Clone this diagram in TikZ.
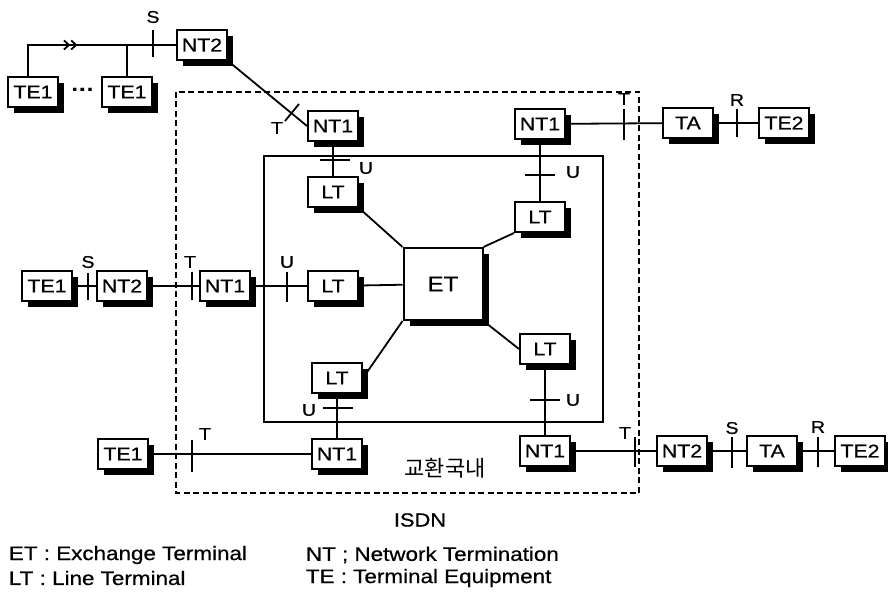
\documentclass[tikz,border=0pt]{standalone}
\usepackage{fontspec}
\setmainfont{Liberation Sans}[FakeStretch=1.15, FakeBold=0.6]
\newfontfamily\krfont{Noto Sans CJK KR}
\usetikzlibrary{shadows,decorations.markings,arrows.meta}

\begin{document}
\begin{tikzpicture}[x=1pt, y=-1pt, line width=1.8pt,
	unit/.style = {draw, line width=2pt, fill=white, minimum width=50pt, minimum height=30pt, inner sep=0pt,
		font=\fontsize{18.5}{20}\selectfont,
		drop shadow={shadow xshift=6pt, shadow yshift=-6pt, fill=black, opacity=1}},
	exch/.style = {unit, minimum width=79pt, minimum height=72pt, font=\fontsize{21}{23}\selectfont},
	iface/.style = {inner sep=0pt, font=\fontsize{17}{18}\selectfont},
	legend/.style = {anchor=west, inner sep=0pt, font=\fontsize{19.5}{21}\selectfont}]

			\useasboundingbox (0,0) rectangle (888,593);

			% frames
			\draw (264,156) rectangle (603,422);
			\draw[line width=1.6pt, dash pattern=on 6pt off 3.5pt] (176,92) rectangle (639,493);

			\node[unit] (te1a) at (33,92) {TE1};
			\node[unit] (te1b) at (127,92) {TE1};
			\node[font=\fontsize{20}{20}\selectfont\bfseries] (dots) at (83,92)
				{\textperiodcentered\textperiodcentered\textperiodcentered};
			\node[unit] (nt2a) at (202,45) {NT2};
			\node[unit] (nt1a) at (333,126) {NT1};
			\node[unit] (nt1b) at (540,124) {NT1};
			\node[unit] (lt1) at (333,192) {LT};
			\node[unit] (lt2) at (540,217) {LT};
			\node[unit] (ta1) at (688,123) {TA};
			\node[unit] (te2a) at (784,123) {TE2};

			\node[unit] (te1c) at (47,286) {TE1};
			\node[unit] (nt2b) at (122,286) {NT2};
			\node[unit] (nt1c) at (225,286) {NT1};
			\node[unit] (lt3) at (333,286) {LT};
			\node[exch] (et) at (443,284) {ET};

			\node[unit] (lt4) at (337,378) {LT};
			\node[unit] (lt5) at (545,349) {LT};
			\node[unit] (te1d) at (123,454) {TE1};
			\node[unit] (nt1d) at (337,454) {NT1};
			\node[unit] (nt1e) at (545,451) {NT1};
			\node[unit] (nt2c) at (682,451) {NT2};
			\node[unit] (ta2) at (772,451) {TA};
			\node[unit] (te2b) at (860,451) {TE2};

			% connectors
			\draw[postaction={decorate}, decoration={markings, mark=at position 0.45 with
				{\arrow{Straight Barb[length=5pt,width=9pt]Straight Barb[length=5pt,width=9pt]}}}]
				([xshift=-5pt]te1a.north) |- (nt2a.west);
			\draw (te1b.north) -- (te1b.north |- nt2a.west);
			\draw (nt2a.south east) -- (nt1a.west);
			\draw (nt1a) -- (lt1);
			\draw (nt1b) -- (lt2);
			\draw (nt1b) -- (ta1);
			\draw (ta1) -- (te2a);
			\draw (te1c) -- (nt2b);
			\draw (nt2b) -- (nt1c);
			\draw (nt1c) -- (lt3);
			\draw (lt3) -- (et);
			\draw (lt1.south east) -- (et.north west);
			\draw (lt2.south west) -- (et.north east);
			\draw (lt4.east) -- (et.south west);
			\draw (lt5.west) -- (et.south east);
			\draw (lt4) -- (nt1d);
			\draw (lt5) -- (nt1e);
			\draw (te1d) -- (nt1d);
			\draw (nt1e) -- (nt2c);
			\draw (nt2c) -- (ta2);
			\draw (ta2) -- (te2b);

			% reference points
			\draw (153,30) -- (153,57);
			\node[iface] (s1) at (153,17) {S};
			\draw (285,121) -- (299,104);
			\node[iface] (t1) at (277,128) {T};
			\draw (320,160) -- (350,160);
			\node[iface] (u1) at (366,168) {U};
			\draw (525,175) -- (555,175);
			\node[iface] (u2) at (573,172) {U};
			\draw (624,109) -- (624,140);
			\node[iface] (t2) at (624,99) {T};
			\draw (737,109) -- (737,137);
			\node[iface] (r1) at (737,100) {R};

			\draw (88,273) -- (88,300);
			\node[iface] (s2) at (88,262) {S};
			\draw (192,272) -- (192,300);
			\node[iface] (t3) at (190,262) {T};
			\draw (287,272) -- (287,302);
			\node[iface] (u3) at (287,262) {U};

			\draw (323,408) -- (353,408);
			\node[iface] (u4) at (309,410) {U};
			\draw (530,400) -- (560,400);
			\node[iface] (u5) at (573,400) {U};
			\draw (192,440) -- (192,472);
			\node[iface] (t4) at (205,434) {T};
			\draw (635,437) -- (635,467);
			\node[iface] (t5) at (625,433) {T};
			\draw (732,437) -- (732,468);
			\node[iface] (s3) at (732,428) {S};
			\draw (818,437) -- (818,467);
			\node[iface] (r2) at (818,427) {R};

			% texts
			\node[font=\krfont\fontsize{22}{24}\selectfont] (office) at (445,468) {교환국내};
			\node[font=\fontsize{19}{21}\selectfont] (isdn) at (420,520) {ISDN};
			\node[legend] (lgET) at (8,555) {ET : Exchange Terminal};
			\node[legend] (lgLT) at (8,578) {LT : Line Terminal};
			\node[legend] (lgNT) at (305,555) {NT ; Network Termination};
			\node[legend] (lgTE) at (305,578) {TE : Terminal Equipment};
		\end{tikzpicture}
\end{document}
